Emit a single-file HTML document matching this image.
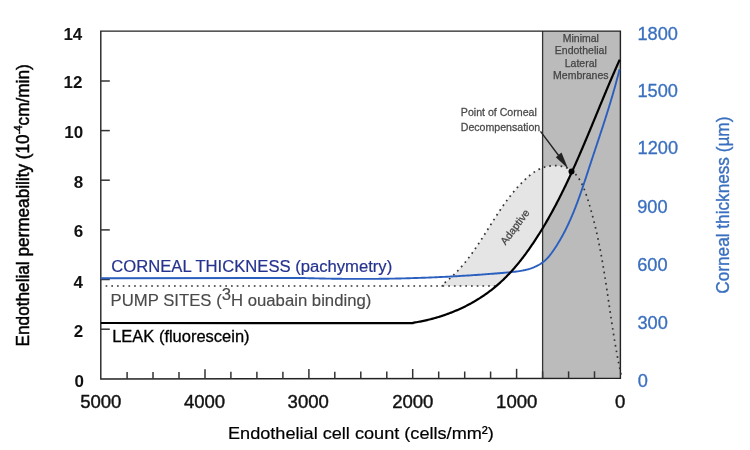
<!DOCTYPE html>
<html><head><meta charset="utf-8">
<style>
html,body{margin:0;padding:0;background:#fff;}
body{width:750px;height:450px;overflow:hidden;}
svg{display:block;}
svg,text,tspan{font-family:"Liberation Sans",Arial,Helvetica,sans-serif;}
</style></head>
<body>
<svg width="750" height="450" viewBox="0 0 750 450">
<rect x="0" y="0" width="750" height="450" fill="#fff"/>
<path d="M542.6,31.1 L620.4,31.1 L620.4,378.3 L542.6,378.4 Z" fill="#bbbbbb"/>
<path d="M442.50,286.00 L441.58,285.21 L443.24,283.96 L444.87,282.68 L446.48,281.38 L448.05,280.06 L449.59,278.72 L451.10,277.36 L452.58,275.97 L454.04,274.57 L455.47,273.14 L456.87,271.70 L458.26,270.24 L459.61,268.76 L460.95,267.27 L462.26,265.76 L463.55,264.23 L464.83,262.69 L466.08,261.14 L467.32,259.57 L468.54,257.99 L469.74,256.40 L470.92,254.79 L472.10,253.18 L473.26,251.55 L474.40,249.92 L475.54,248.27 L476.66,246.62 L477.78,244.96 L478.88,243.29 L479.98,241.62 L481.07,239.94 L482.16,238.26 L483.24,236.57 L484.31,234.88 L485.38,233.19 L486.45,231.49 L487.52,229.79 L488.58,228.09 L489.65,226.39 L490.72,224.69 L491.78,223.00 L492.86,221.30 L493.93,219.60 L495.01,217.91 L496.10,216.22 L497.19,214.54 L498.29,212.86 L499.40,211.19 L500.51,209.52 L501.64,207.86 L502.78,206.20 L503.93,204.56 L505.09,202.92 L506.27,201.29 L507.46,199.68 L508.67,198.07 L509.89,196.48 L511.13,194.89 L512.39,193.32 L513.67,191.76 L514.97,190.22 L516.28,188.69 L517.62,187.18 L518.99,185.68 L520.38,184.20 L521.79,182.74 L523.22,181.29 L524.69,179.87 L526.18,178.47 L527.70,177.10 L529.26,175.78 L530.85,174.51 L532.47,173.29 L534.14,172.14 L535.84,171.06 L537.59,170.05 L539.38,169.13 L541.22,168.31 L543.10,167.59 L545.04,166.97 L547.03,166.47 L549.06,166.09 L551.12,165.82 L553.21,165.68 L555.29,165.66 L557.37,165.75 L559.41,165.97 L561.42,166.31 L563.36,166.76 L565.24,167.34 L567.03,168.04 L568.72,168.85 L570.31,169.78 L571.30,171.30 L571.10,173.65 L570.61,174.72 L570.11,175.80 L569.61,176.87 L569.11,177.94 L568.61,179.02 L568.11,180.09 L567.60,181.16 L567.10,182.23 L566.59,183.30 L566.08,184.36 L565.57,185.43 L565.05,186.49 L564.54,187.56 L564.02,188.62 L563.50,189.68 L562.98,190.74 L562.46,191.80 L561.94,192.86 L561.41,193.92 L560.88,194.97 L560.35,196.03 L559.82,197.08 L559.29,198.13 L558.75,199.18 L558.21,200.23 L557.67,201.28 L557.13,202.33 L556.58,203.37 L556.04,204.41 L555.49,205.46 L554.94,206.50 L554.38,207.53 L553.83,208.57 L553.27,209.61 L552.71,210.64 L552.14,211.68 L551.58,212.71 L551.01,213.74 L550.44,214.76 L549.87,215.79 L549.29,216.82 L548.72,217.84 L548.14,218.86 L547.55,219.88 L546.97,220.90 L546.38,221.91 L545.79,222.93 L545.20,223.94 L544.60,224.95 L544.00,225.96 L543.40,226.97 L542.80,227.97 L542.19,228.97 L541.58,229.97 L540.97,230.97 L540.35,231.97 L539.73,232.97 L539.11,233.96 L538.49,234.95 L537.86,235.94 L537.23,236.93 L536.60,237.91 L535.96,238.89 L535.32,239.87 L534.68,240.85 L534.04,241.83 L533.39,242.80 L532.74,243.77 L532.08,244.74 L531.42,245.71 L530.76,246.67 L530.09,247.64 L529.43,248.59 L528.75,249.55 L528.08,250.50 L527.40,251.45 L526.71,252.40 L526.03,253.34 L525.33,254.28 L524.64,255.22 L523.94,256.15 L523.23,257.08 L522.53,258.00 L521.81,258.93 L521.10,259.84 L520.38,260.76 L519.65,261.67 L518.92,262.57 L518.19,263.47 L517.45,264.37 L516.71,265.26 L515.96,266.15 L515.20,267.04 L514.45,267.91 L513.68,268.79 L512.91,269.66 L512.14,270.52 L511.36,271.38 L510.58,272.24 L509.79,273.09 L509.00,273.93 L508.20,274.77 L507.39,275.60 L506.58,276.43 L505.77,277.25 L504.95,278.07 L504.12,278.88 L503.29,279.68 L502.45,280.48 L501.61,281.28 L500.76,282.06 L499.90,282.84 L499.04,283.62 L498.17,284.38 L497.30,285.14 L496.41,285.90 L496.30,286.00 Z" fill="#e5e5e5"/>
<line x1="542.6" y1="31.1" x2="542.6" y2="378.4" stroke="#333" stroke-width="1.3"/>
<path d="M100.8,31.1 L620.4,31.1 L620.4,378.3 L100.8,379 Z" fill="none" stroke="#222" stroke-width="1.4" stroke-linejoin="miter"/>
<g stroke="#333" stroke-width="1.5">
<line x1="100.8" y1="81.0" x2="109.8" y2="81.0"/>
<line x1="100.8" y1="130.6" x2="109.8" y2="130.6"/>
<line x1="100.8" y1="180.2" x2="109.8" y2="180.2"/>
<line x1="100.8" y1="229.9" x2="109.8" y2="229.9"/>
<line x1="100.8" y1="279.5" x2="109.8" y2="279.5"/>
<line x1="100.8" y1="329.2" x2="109.8" y2="329.2"/>
</g>
<g stroke="#333" stroke-width="1.5">
<line x1="127.1" y1="379.0" x2="127.1" y2="372.0"/>
<line x1="153.0" y1="378.9" x2="153.0" y2="371.9"/>
<line x1="179.0" y1="378.9" x2="179.0" y2="371.9"/>
<line x1="205.0" y1="378.9" x2="205.0" y2="369.3"/>
<line x1="230.9" y1="378.8" x2="230.9" y2="371.8"/>
<line x1="256.9" y1="378.8" x2="256.9" y2="371.8"/>
<line x1="282.9" y1="378.8" x2="282.9" y2="371.8"/>
<line x1="308.9" y1="378.7" x2="308.9" y2="369.1"/>
<line x1="334.8" y1="378.7" x2="334.8" y2="371.7"/>
<line x1="360.8" y1="378.6" x2="360.8" y2="371.6"/>
<line x1="386.8" y1="378.6" x2="386.8" y2="371.6"/>
<line x1="412.7" y1="378.6" x2="412.7" y2="369.0"/>
<line x1="438.7" y1="378.5" x2="438.7" y2="371.5"/>
<line x1="464.7" y1="378.5" x2="464.7" y2="371.5"/>
<line x1="490.6" y1="378.5" x2="490.6" y2="371.5"/>
<line x1="516.6" y1="378.4" x2="516.6" y2="368.8"/>
<line x1="542.6" y1="378.4" x2="542.6" y2="371.4"/>
<line x1="568.6" y1="378.4" x2="568.6" y2="371.4"/>
<line x1="594.5" y1="378.3" x2="594.5" y2="371.3"/>
</g>
<path d="M105.6,286 H442.5 L441.58,285.21 L443.24,283.96 L444.87,282.68 L446.48,281.38 L448.05,280.06 L449.59,278.72 L451.10,277.36 L452.58,275.97 L454.04,274.57 L455.47,273.14 L456.87,271.70 L458.26,270.24 L459.61,268.76 L460.95,267.27 L462.26,265.76 L463.55,264.23 L464.83,262.69 L466.08,261.14 L467.32,259.57 L468.54,257.99 L469.74,256.40 L470.92,254.79 L472.10,253.18 L473.26,251.55 L474.40,249.92 L475.54,248.27 L476.66,246.62 L477.78,244.96 L478.88,243.29 L479.98,241.62 L481.07,239.94 L482.16,238.26 L483.24,236.57 L484.31,234.88 L485.38,233.19 L486.45,231.49 L487.52,229.79 L488.58,228.09 L489.65,226.39 L490.72,224.69 L491.78,223.00 L492.86,221.30 L493.93,219.60 L495.01,217.91 L496.10,216.22 L497.19,214.54 L498.29,212.86 L499.40,211.19 L500.51,209.52 L501.64,207.86 L502.78,206.20 L503.93,204.56 L505.09,202.92 L506.27,201.29 L507.46,199.68 L508.67,198.07 L509.89,196.48 L511.13,194.89 L512.39,193.32 L513.67,191.76 L514.97,190.22 L516.28,188.69 L517.62,187.18 L518.99,185.68 L520.38,184.20 L521.79,182.74 L523.22,181.29 L524.69,179.87 L526.18,178.47 L527.70,177.10 L529.26,175.78 L530.85,174.51 L532.47,173.29 L534.14,172.14 L535.84,171.06 L537.59,170.05 L539.38,169.13 L541.22,168.31 L543.10,167.59 L545.04,166.97 L547.03,166.47 L549.06,166.09 L551.12,165.82 L553.21,165.68 L555.29,165.66 L557.37,165.75 L559.41,165.97 L561.42,166.31 L563.36,166.76 L565.24,167.34 L567.03,168.04 L568.72,168.85 L570.31,169.78 L571.82,170.82 L573.23,171.96 L574.57,173.20 L575.82,174.52 L577.00,175.93 L578.12,177.42 L579.16,178.98 L580.15,180.60 L581.08,182.29 L581.96,184.03 L582.80,185.82 L583.59,187.64 L584.34,189.51 L585.06,191.40 L585.74,193.32 L586.41,195.26 L587.05,197.21 L587.68,199.16 L588.29,201.12 L588.89,203.07 L589.48,205.03 L590.06,206.99 L590.63,208.95 L591.18,210.91 L591.73,212.87 L592.26,214.83 L592.79,216.79 L593.30,218.75 L593.80,220.71 L594.29,222.68 L594.78,224.64 L595.25,226.61 L595.72,228.57 L596.17,230.54 L596.62,232.50 L597.06,234.47 L597.49,236.44 L597.92,238.40 L598.33,240.37 L598.74,242.34 L599.14,244.31 L599.53,246.28 L599.92,248.25 L600.30,250.22 L600.67,252.19 L601.04,254.17 L601.40,256.14 L601.76,258.11 L602.11,260.09 L602.46,262.06 L602.80,264.03 L603.13,266.01 L603.47,267.98 L603.79,269.96 L604.12,271.93 L604.44,273.91 L604.75,275.89 L605.07,277.86 L605.38,279.84 L605.68,281.82 L605.99,283.80 L606.29,285.77 L606.59,287.75 L606.89,289.73 L607.18,291.71 L607.48,293.69 L607.77,295.67 L608.06,297.65 L608.35,299.63 L608.65,301.61 L608.94,303.59 L609.23,305.57 L609.52,307.55 L609.81,309.53 L610.10,311.51 L610.39,313.49 L610.69,315.47 L610.98,317.46 L611.28,319.44 L611.58,321.42 L611.88,323.40 L612.18,325.38 L612.49,327.36 L612.80,329.35 L613.11,331.33 L613.42,333.31 L613.74,335.29 L614.06,337.28 L614.38,339.26 L614.71,341.24 L615.05,343.22 L615.39,345.20 L615.73,347.19 L616.08,349.17 L616.43,351.15 L616.79,353.13 L617.15,355.11 L617.52,357.10 L617.90,359.08 L618.28,361.06 L618.67,363.04 L619.07,365.02 L619.47,367.00 L619.88,368.98 L620.30,370.96 L620.73,372.95 L621.16,374.93 M442.5,286 H496.3" fill="none" stroke="#333" stroke-width="1.7" stroke-dasharray="1.7 4"/>
<path d="M100.5,278.3 L299.85,277.89 L301.40,277.94 L302.94,277.99 L304.49,278.04 L306.03,278.09 L307.57,278.13 L309.11,278.18 L310.65,278.22 L312.19,278.26 L313.73,278.30 L315.27,278.34 L316.81,278.38 L318.34,278.42 L319.88,278.45 L321.41,278.48 L322.95,278.52 L324.48,278.55 L326.01,278.58 L327.55,278.61 L329.08,278.64 L330.61,278.66 L332.14,278.69 L333.67,278.71 L335.20,278.73 L336.73,278.75 L338.25,278.77 L339.78,278.79 L341.31,278.81 L342.83,278.83 L344.36,278.84 L345.88,278.85 L347.41,278.87 L348.93,278.88 L350.46,278.89 L351.98,278.89 L353.50,278.90 L355.03,278.91 L356.55,278.91 L358.07,278.91 L359.59,278.91 L361.11,278.91 L362.63,278.91 L364.15,278.91 L365.67,278.91 L367.19,278.90 L368.71,278.89 L370.23,278.89 L371.75,278.88 L373.26,278.87 L374.78,278.85 L376.30,278.84 L377.82,278.83 L379.33,278.81 L380.85,278.79 L382.37,278.77 L383.88,278.75 L385.40,278.73 L386.91,278.71 L388.43,278.69 L389.94,278.66 L391.46,278.63 L392.98,278.61 L394.49,278.58 L396.01,278.55 L397.52,278.51 L399.04,278.48 L400.55,278.44 L402.07,278.41 L403.58,278.37 L405.09,278.33 L406.61,278.29 L408.12,278.25 L409.64,278.21 L411.15,278.16 L412.67,278.12 L414.18,278.07 L415.70,278.02 L417.21,277.97 L418.73,277.92 L420.24,277.86 L421.76,277.81 L423.27,277.76 L424.79,277.70 L426.30,277.64 L427.82,277.58 L429.34,277.52 L430.85,277.46 L432.37,277.39 L433.88,277.33 L435.40,277.26 L436.92,277.19 L438.43,277.12 L439.95,277.05 L441.47,276.98 L442.99,276.91 L444.51,276.83 L446.02,276.75 L447.54,276.68 L449.06,276.60 L450.58,276.52 L452.10,276.43 L453.62,276.35 L455.14,276.27 L456.66,276.18 L458.18,276.09 L459.71,276.00 L461.23,275.91 L462.75,275.82 L464.27,275.73 L465.80,275.63 L467.32,275.54 L468.85,275.44 L470.37,275.34 L471.90,275.24 L473.42,275.14 L474.95,275.03 L476.48,274.93 L478.00,274.82 L479.53,274.71 L481.06,274.60 L482.59,274.49 L484.12,274.38 L485.65,274.27 L487.18,274.15 L488.71,274.04 L490.25,273.92 L491.78,273.80 L493.31,273.68 L494.85,273.56 L496.38,273.43 L497.92,273.31 L499.46,273.18 L500.99,273.05 L502.53,272.93 L504.07,272.79 L505.61,272.66 L507.15,272.53 L508.69,272.39 L510.23,272.24 L511.77,272.09 L513.30,271.93 L514.83,271.75 L516.35,271.56 L517.86,271.35 L519.37,271.12 L520.87,270.87 L522.36,270.60 L523.84,270.30 L525.31,269.98 L526.76,269.62 L528.20,269.23 L529.62,268.81 L531.03,268.35 L532.43,267.85 L533.80,267.31 L535.15,266.73 L536.49,266.10 L537.80,265.43 L539.08,264.72 L540.34,263.95 L541.57,263.14 L542.77,262.29 L543.93,261.38 L545.06,260.43 L546.15,259.42 L547.20,258.37 L548.22,257.26 L549.19,256.12 L550.14,254.94 L551.07,253.73 L551.97,252.50 L552.85,251.25 L553.72,250.00 L554.57,248.73 L555.41,247.46 L556.24,246.18 L557.05,244.90 L557.86,243.61 L558.65,242.31 L559.43,241.00 L560.20,239.69 L560.95,238.37 L561.70,237.05 L562.43,235.72 L563.16,234.38 L563.87,233.04 L564.57,231.69 L565.26,230.33 L565.95,228.97 L566.62,227.61 L567.28,226.24 L567.94,224.86 L568.58,223.48 L569.22,222.10 L569.85,220.71 L570.47,219.32 L571.08,217.92 L571.68,216.52 L572.28,215.12 L572.87,213.71 L573.45,212.29 L574.03,210.88 L574.60,209.46 L575.16,208.04 L575.71,206.61 L576.26,205.18 L576.81,203.75 L577.35,202.32 L577.88,200.88 L578.41,199.45 L578.93,198.01 L579.45,196.57 L579.97,195.12 L580.48,193.68 L580.98,192.23 L581.48,190.78 L581.98,189.33 L582.48,187.88 L582.97,186.43 L583.46,184.98 L583.95,183.53 L584.44,182.07 L584.92,180.62 L585.40,179.17 L585.88,177.71 L586.36,176.26 L586.84,174.81 L587.31,173.36 L587.79,171.90 L588.26,170.45 L588.74,169.00 L589.21,167.55 L589.69,166.10 L590.16,164.66 L590.64,163.21 L591.11,161.77 L591.59,160.33 L592.07,158.89 L592.54,157.44 L593.02,156.01 L593.50,154.57 L593.97,153.13 L594.45,151.69 L594.93,150.26 L595.41,148.82 L595.88,147.39 L596.36,145.96 L596.84,144.52 L597.31,143.09 L597.79,141.66 L598.26,140.23 L598.74,138.80 L599.21,137.37 L599.69,135.94 L600.16,134.50 L600.63,133.07 L601.10,131.64 L601.57,130.21 L602.04,128.78 L602.51,127.35 L602.97,125.92 L603.44,124.49 L603.90,123.06 L604.37,121.62 L604.83,120.19 L605.29,118.76 L605.74,117.32 L606.20,115.89 L606.66,114.45 L607.11,113.02 L607.56,111.58 L608.01,110.14 L608.46,108.70 L608.91,107.26 L609.35,105.82 L609.79,104.37 L610.23,102.93 L610.67,101.48 L611.10,100.04 L611.54,98.59 L611.97,97.14 L612.39,95.68 L612.82,94.23 L613.24,92.77 L613.66,91.32 L614.08,89.86 L614.49,88.40 L614.91,86.93 L615.31,85.47 L615.72,84.00 L616.12,82.53 L616.52,81.06 L616.92,79.58 L617.31,78.11 L617.70,76.63 L618.09,75.15 L618.47,73.66 L618.85,72.18 L619.23,70.69 L619.60,69.19" fill="none" stroke="#2a5fbf" stroke-width="1.9" stroke-linejoin="round"/>
<path d="M100.8,323 L413.3,323.1 L412.91,322.79 L414.10,322.61 L415.29,322.41 L416.47,322.21 L417.66,322.00 L418.84,321.79 L420.03,321.56 L421.21,321.33 L422.39,321.09 L423.56,320.84 L424.74,320.59 L425.91,320.33 L427.08,320.06 L428.25,319.78 L429.42,319.49 L430.58,319.20 L431.74,318.90 L432.90,318.59 L434.06,318.27 L435.21,317.95 L436.37,317.62 L437.52,317.28 L438.66,316.93 L439.80,316.58 L440.95,316.22 L442.08,315.85 L443.22,315.47 L444.35,315.09 L445.48,314.70 L446.60,314.30 L447.72,313.89 L448.84,313.48 L449.96,313.06 L451.07,312.63 L452.18,312.19 L453.28,311.75 L454.38,311.30 L455.48,310.84 L456.57,310.38 L457.66,309.90 L458.75,309.42 L459.83,308.94 L460.90,308.44 L461.98,307.94 L463.05,307.43 L464.11,306.91 L465.17,306.39 L466.23,305.86 L467.28,305.32 L468.33,304.78 L469.37,304.22 L470.40,303.67 L471.44,303.10 L472.47,302.52 L473.49,301.94 L474.51,301.36 L475.52,300.76 L476.53,300.16 L477.53,299.55 L478.53,298.93 L479.52,298.31 L480.51,297.68 L481.49,297.04 L482.47,296.40 L483.44,295.75 L484.40,295.09 L485.36,294.42 L486.32,293.75 L487.27,293.07 L488.21,292.38 L489.14,291.69 L490.07,290.99 L491.00,290.28 L491.92,289.57 L492.83,288.85 L493.74,288.12 L494.63,287.39 L495.53,286.65 L496.41,285.90 L497.30,285.14 L498.17,284.38 L499.04,283.62 L499.90,282.84 L500.76,282.06 L501.61,281.28 L502.45,280.48 L503.29,279.68 L504.12,278.88 L504.95,278.07 L505.77,277.25 L506.58,276.43 L507.39,275.60 L508.20,274.77 L509.00,273.93 L509.79,273.09 L510.58,272.24 L511.36,271.38 L512.14,270.52 L512.91,269.66 L513.68,268.79 L514.45,267.91 L515.20,267.04 L515.96,266.15 L516.71,265.26 L517.45,264.37 L518.19,263.47 L518.92,262.57 L519.65,261.67 L520.38,260.76 L521.10,259.84 L521.81,258.93 L522.53,258.00 L523.23,257.08 L523.94,256.15 L524.64,255.22 L525.33,254.28 L526.03,253.34 L526.71,252.40 L527.40,251.45 L528.08,250.50 L528.75,249.55 L529.43,248.59 L530.09,247.64 L530.76,246.67 L531.42,245.71 L532.08,244.74 L532.74,243.77 L533.39,242.80 L534.04,241.83 L534.68,240.85 L535.32,239.87 L535.96,238.89 L536.60,237.91 L537.23,236.93 L537.86,235.94 L538.49,234.95 L539.11,233.96 L539.73,232.97 L540.35,231.97 L540.97,230.97 L541.58,229.97 L542.19,228.97 L542.80,227.97 L543.40,226.97 L544.00,225.96 L544.60,224.95 L545.20,223.94 L545.79,222.93 L546.38,221.91 L546.97,220.90 L547.55,219.88 L548.14,218.86 L548.72,217.84 L549.29,216.82 L549.87,215.79 L550.44,214.76 L551.01,213.74 L551.58,212.71 L552.14,211.68 L552.71,210.64 L553.27,209.61 L553.83,208.57 L554.38,207.53 L554.94,206.50 L555.49,205.46 L556.04,204.41 L556.58,203.37 L557.13,202.33 L557.67,201.28 L558.21,200.23 L558.75,199.18 L559.29,198.13 L559.82,197.08 L560.35,196.03 L560.88,194.97 L561.41,193.92 L561.94,192.86 L562.46,191.80 L562.98,190.74 L563.50,189.68 L564.02,188.62 L564.54,187.56 L565.05,186.49 L565.57,185.43 L566.08,184.36 L566.59,183.30 L567.10,182.23 L567.60,181.16 L568.11,180.09 L568.61,179.02 L569.11,177.94 L569.61,176.87 L570.11,175.80 L570.61,174.72 L571.10,173.65 L571.60,172.57 L572.09,171.49 L572.58,170.41 L573.07,169.33 L573.56,168.25 L574.05,167.17 L574.53,166.09 L575.02,165.01 L575.50,163.93 L575.98,162.84 L576.46,161.76 L576.94,160.67 L577.42,159.59 L577.89,158.50 L578.37,157.41 L578.84,156.33 L579.32,155.24 L579.79,154.15 L580.26,153.06 L580.73,151.97 L581.20,150.88 L581.67,149.79 L582.14,148.70 L582.61,147.61 L583.07,146.51 L583.54,145.42 L584.00,144.33 L584.46,143.24 L584.93,142.14 L585.39,141.05 L585.85,139.96 L586.31,138.86 L586.77,137.77 L587.23,136.67 L587.69,135.58 L588.15,134.48 L588.60,133.39 L589.06,132.29 L589.52,131.20 L589.97,130.10 L590.43,129.01 L590.88,127.91 L591.34,126.82 L591.79,125.72 L592.24,124.63 L592.70,123.53 L593.15,122.43 L593.60,121.34 L594.06,120.24 L594.51,119.15 L594.96,118.05 L595.41,116.96 L595.86,115.86 L596.31,114.77 L596.76,113.67 L597.22,112.58 L597.67,111.49 L598.12,110.39 L598.57,109.30 L599.02,108.21 L599.47,107.11 L599.92,106.02 L600.37,104.93 L600.82,103.84 L601.28,102.75 L601.73,101.66 L602.18,100.56 L602.63,99.47 L603.08,98.39 L603.54,97.30 L603.99,96.21 L604.44,95.12 L604.89,94.03 L605.35,92.95 L605.80,91.86 L606.26,90.77 L606.71,89.69 L607.17,88.61 L607.62,87.52 L608.08,86.44 L608.54,85.36 L608.99,84.28 L609.45,83.19 L609.91,82.11 L610.37,81.04 L610.83,79.96 L611.29,78.88 L611.75,77.80 L612.21,76.73 L612.67,75.65 L613.14,74.58 L613.60,73.51 L614.07,72.44 L614.53,71.36 L615.00,70.29 L615.47,69.23 L615.94,68.16 L616.41,67.09 L616.88,66.03 L617.35,64.96 L617.82,63.90 L618.29,62.83 L618.77,61.77 L619.25,60.71 L619.72,59.66" fill="none" stroke="#000" stroke-width="2.2" stroke-linejoin="round"/>
<circle cx="571.5" cy="171.5" r="3" fill="#000"/>
<line x1="540.5" y1="131.4" x2="562" y2="160" stroke="#222" stroke-width="1.4"/>
<path d="M568,168.5 L555.8,157.2 L561.5,152.5 Z" fill="#222"/>
<text transform="translate(82.30,39.60)" font-size="17" fill="#111" font-weight="bold" text-anchor="end">14</text>
<text transform="translate(82.50,88.30)" font-size="17" fill="#111" font-weight="bold" text-anchor="end">12</text>
<text transform="translate(83.20,137.80)" font-size="17" fill="#111" font-weight="bold" text-anchor="end">10</text>
<text transform="translate(83.15,188.20)" font-size="17" fill="#111" font-weight="bold" text-anchor="end">8</text>
<text transform="translate(83.15,237.45)" font-size="17" fill="#111" font-weight="bold" text-anchor="end">6</text>
<text transform="translate(82.95,287.60)" font-size="17" fill="#111" font-weight="bold" text-anchor="end">4</text>
<text transform="translate(83.15,337.00)" font-size="17" fill="#111" font-weight="bold" text-anchor="end">2</text>
<text transform="translate(83.95,387.00)" font-size="17" fill="#111" font-weight="bold" text-anchor="end">0</text>
<text transform="translate(100.75,407.75) scale(1.03,1.0)" font-size="18" fill="#111" text-anchor="middle" stroke="#111" stroke-width="0.4">5000</text>
<text transform="translate(204.50,407.70) scale(1.03,1.0)" font-size="18" fill="#111" text-anchor="middle" stroke="#111" stroke-width="0.4">4000</text>
<text transform="translate(308.20,407.75) scale(1.03,1.0)" font-size="18" fill="#111" text-anchor="middle" stroke="#111" stroke-width="0.4">3000</text>
<text transform="translate(412.80,407.70) scale(1.03,1.0)" font-size="18" fill="#111" text-anchor="middle" stroke="#111" stroke-width="0.4">2000</text>
<text transform="translate(516.70,407.65) scale(1.03,1.0)" font-size="18" fill="#111" text-anchor="middle" stroke="#111" stroke-width="0.4">1000</text>
<text transform="translate(620.05,407.95) scale(1.03,1.0)" font-size="18" fill="#111" text-anchor="middle" stroke="#111" stroke-width="0.4">0</text>
<text transform="translate(637.50,39.50) scale(1.04,1.0)" font-size="17.5" fill="#3a6fbf" stroke="#3a6fbf" stroke-width="0.3">1800</text>
<text transform="translate(637.50,97.00) scale(1.04,1.0)" font-size="17.5" fill="#3a6fbf" stroke="#3a6fbf" stroke-width="0.3">1500</text>
<text transform="translate(637.60,154.30) scale(1.04,1.0)" font-size="17.5" fill="#3a6fbf" stroke="#3a6fbf" stroke-width="0.3">1200</text>
<text transform="translate(637.20,212.80) scale(1.04,1.0)" font-size="17.5" fill="#3a6fbf" stroke="#3a6fbf" stroke-width="0.3">900</text>
<text transform="translate(637.20,270.50) scale(1.04,1.0)" font-size="17.5" fill="#3a6fbf" stroke="#3a6fbf" stroke-width="0.3">600</text>
<text transform="translate(637.40,328.50) scale(1.04,1.0)" font-size="17.5" fill="#3a6fbf" stroke="#3a6fbf" stroke-width="0.3">300</text>
<text transform="translate(637.65,387.10) scale(1.04,1.0)" font-size="17.5" fill="#3a6fbf" stroke="#3a6fbf" stroke-width="0.3">0</text>
<text transform="translate(228.00,438.80) scale(1.055,1.0)" font-size="17.2" fill="#000" stroke="#000" stroke-width="0.2">Endothelial cell count (cells/mm²)</text>
<text transform="translate(28.70,346.40) scale(1.07,1.0) rotate(-90)" font-size="17.2" fill="#000" stroke="#000" stroke-width="0.45">Endothelial permeability (10<tspan font-size="10" dy="-6.5">-4</tspan><tspan dy="6.5">cm/min)</tspan></text>
<text transform="translate(729.25,293.65) scale(1.07,1.0) rotate(-90)" font-size="17.2" fill="#3a6fbf" stroke="#3a6fbf" stroke-width="0.35">Corneal thickness (µm)</text>
<text transform="translate(111.30,272.20) scale(1.04,1.0)" font-size="16" fill="#25338f" stroke="#25338f" stroke-width="0.2">CORNEAL THICKNESS (pachymetry)</text>
<text transform="translate(110.55,305.80) scale(1.045,1.0)" font-size="16" fill="#4a4a4a" stroke="#4a4a4a" stroke-width="0.15">PUMP SITES (<tspan font-size="16" dy="-6.3">3</tspan><tspan dy="6.3">H ouabain binding)</tspan></text>
<text transform="translate(112.20,342.10) scale(1.03,1.0)" font-size="16" fill="#000" stroke="#000" stroke-width="0.3">LEAK (fluorescein)</text>
<text transform="translate(460.85,115.90) scale(1.03,1.0)" font-size="10.3" fill="#4a4a4a" stroke="#4a4a4a" stroke-width="0.25">Point of Corneal</text>
<text transform="translate(460.75,130.50) scale(1.03,1.0)" font-size="10.3" fill="#4a4a4a" stroke="#4a4a4a" stroke-width="0.25">Decompensation</text>
<text transform="translate(580.80,41.80)" font-size="10.5" fill="#444" text-anchor="middle" stroke="#444" stroke-width="0.25">Minimal</text>
<text transform="translate(580.80,54.40)" font-size="10.5" fill="#444" text-anchor="middle" stroke="#444" stroke-width="0.25">Endothelial</text>
<text transform="translate(580.80,66.90)" font-size="10.5" fill="#444" text-anchor="middle" stroke="#444" stroke-width="0.25">Lateral</text>
<text transform="translate(580.80,79.10)" font-size="10.5" fill="#444" text-anchor="middle" stroke="#444" stroke-width="0.25">Membranes</text>
<text transform="translate(505.50,245.50) rotate(-53)" font-size="10.5" fill="#444" stroke="#444" stroke-width="0.25">Adaptive</text>
</svg>
</body></html>
